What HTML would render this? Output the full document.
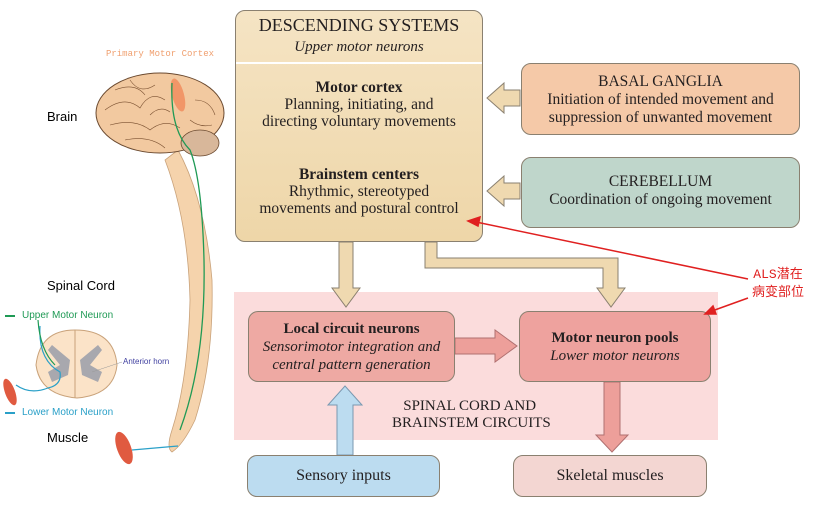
<!DOCTYPE html>
<html><head><meta charset="utf-8"><style>
body{margin:0;width:816px;height:515px;background:#fff;overflow:hidden;position:relative;font-family:"Liberation Serif",serif;}
.b{position:absolute;box-sizing:border-box;border:1px solid #8a8070;border-radius:10px;text-align:center;color:#231f20;}
.t{position:absolute;text-align:center;}
</style></head><body>
<svg width="816" height="515" style="position:absolute;left:0;top:0">
<rect x="234" y="292" width="484" height="148" fill="#fbdcdc"/>
<g fill="#efd9b0" stroke="#8a8070" stroke-width="1">
<path d="M339 242 V288 H332 L346 307 L360 288 H353 V242 Z"/>
<path d="M425 242 V268 H603 V288 H597 L611 307 L625 288 H618 V258 H437 V242 Z"/>
<path d="M520 90 H504 V83 L487 98 L504 113 V106 H520 Z"/>
<path d="M520 183 H504 V176 L487 191 L504 206 V199 H520 Z"/>
</g>
<path d="M455 338 H495 V330 L517 346 L495 362 V354 H455 Z" fill="#ed9f9a" stroke="#b07070"/>
<path d="M337 455 V405 H328 L345 386 L362 405 H353 V455 Z" fill="#bcdcf0" stroke="#7a98b0"/>
<path d="M604 382 V435 H596 L612 452 L628 435 H620 V382 Z" fill="#ed9f9a" stroke="#b07070"/>
<path d="M178 150 Q205 200 212 280 Q214 360 195 420 Q183 445 172 452 Q166 448 172 430 Q188 380 190 300 Q188 220 165 160 Z" fill="#f5d3ac" stroke="#c9a27a" stroke-width="0.8"/>
<ellipse cx="160" cy="113" rx="64" ry="40" fill="#f2c9a0" stroke="#6b4a30" stroke-width="1"/>
<ellipse cx="200" cy="143" rx="19" ry="13" fill="#d8b79a" stroke="#6b4a30" stroke-width="0.8"/>
<ellipse cx="178" cy="95" rx="6" ry="17" fill="#f08a5a" opacity="0.8" transform="rotate(-15 178 95)"/>
<g stroke="#7a5030" stroke-width="0.6" fill="none">
<path d="M105 110 Q125 95 140 108 Q150 90 165 100"/><path d="M110 125 Q135 118 150 130 Q165 118 180 128"/>
<path d="M115 90 Q135 82 145 95"/><path d="M195 100 Q210 100 215 115"/><path d="M125 140 Q150 135 165 148"/>
<path d="M130 80 Q140 95 155 85"/><path d="M150 115 Q160 105 170 112"/><path d="M190 120 Q200 128 212 125"/>
</g>
<path d="M172 83 Q170 130 190 150 Q202 180 204 260 Q206 360 180 430" fill="none" stroke="#1f9a55" stroke-width="1.3"/>
<path d="M132 450 L178 446" fill="none" stroke="#2aa0c8" stroke-width="1.2"/>
<ellipse cx="124" cy="448" rx="7" ry="17" fill="#e05a40" transform="rotate(-20 124 448)"/>
<ellipse cx="10" cy="392" rx="5" ry="14" fill="#e05a40" transform="rotate(-20 10 392)"/>
<path d="M75 330 Q40 330 36 365 Q40 395 77 398 Q114 395 117 365 Q114 330 75 330 Z" fill="#fbe3c8" stroke="#c9a27a"/>
<path d="M52 345 L70 360 L68 375 L52 382 L48 372 L60 365 L48 350 Z M98 345 L80 360 L82 375 L98 382 L102 372 L90 365 L102 350 Z" fill="#a8a8ae"/>
<line x1="75" y1="330" x2="75" y2="398" stroke="#c9a27a"/>
<path d="M40 326 Q38 360 60 372 Q62 385 48 388 Q30 395 16 385" fill="none" stroke="#2aa0c8" stroke-width="1.2"/>
<path d="M38 320 Q40 350 55 365" fill="none" stroke="#1f9a55" stroke-width="1.2"/>
<line x1="5" y1="316" x2="15" y2="316" stroke="#1f9a55" stroke-width="2"/>
<line x1="5" y1="413" x2="15" y2="413" stroke="#2aa0c8" stroke-width="2"/>
<line x1="92" y1="372" x2="122" y2="362" stroke="#999" stroke-width="0.5"/>
</svg>
<div class="t" style="left:100px;top:49px;width:120px;font:9px 'Liberation Mono',monospace;color:#f0a070">Primary Motor Cortex</div>
<div class="t" style="left:47px;top:109px;font:13px 'Liberation Sans',sans-serif">Brain</div>
<div class="t" style="left:47px;top:278px;font:13px 'Liberation Sans',sans-serif">Spinal Cord</div>
<div class="t" style="left:22px;top:310px;font:10px 'Liberation Sans',sans-serif;color:#1f9a55">Upper Motor Neuron</div>
<div class="t" style="left:123px;top:357px;font:8px 'Liberation Sans',sans-serif;color:#4040a0">Anterior horn</div>
<div class="t" style="left:22px;top:407px;font:10px 'Liberation Sans',sans-serif;color:#2aa0c8">Lower Motor Neuron</div>
<div class="t" style="left:47px;top:430px;font:13px 'Liberation Sans',sans-serif">Muscle</div>

<div class="b" style="left:235px;top:10px;width:248px;height:232px;background:linear-gradient(#f5e4c4,#eed6a8);">
<div style="border-bottom:2px solid #fff;padding:4px 0 5px;font-size:18px;line-height:20px">DESCENDING SYSTEMS<br><i style="font-size:15px">Upper motor neurons</i></div>
<div style="margin-top:15px;font-size:15.5px;line-height:17px"><b>Motor cortex</b><br>Planning, initiating, and<br>directing voluntary movements</div>
<div style="margin-top:36px;font-size:15.5px;line-height:17px"><b>Brainstem centers</b><br>Rhythmic, stereotyped<br>movements and postural control</div>
</div>
<div class="b" style="left:521px;top:63px;width:279px;height:72px;background:#f5c9a8;font-size:15.5px;line-height:18px;padding-top:9px">BASAL GANGLIA<br>Initiation of intended movement and<br>suppression of unwanted movement</div>
<div class="b" style="left:521px;top:157px;width:279px;height:71px;background:#bfd6cb;font-size:15.5px;line-height:18px;padding-top:15px">CEREBELLUM<br>Coordination of ongoing movement</div>
<div class="b" style="left:248px;top:311px;width:207px;height:71px;background:#eea9a3;font-size:15px;line-height:18px;padding-top:8px"><b>Local circuit neurons</b><br><i>Sensorimotor integration and<br>central pattern generation</i></div>
<div class="b" style="left:519px;top:311px;width:192px;height:71px;background:#eea29e;font-size:15px;line-height:18px;padding-top:17px"><b>Motor neuron pools</b><br><i>Lower motor neurons</i></div>
<div class="t" style="left:392px;top:398px;width:200px;font-size:15px;line-height:17px;text-align:left;color:#231f20">&nbsp;&nbsp;&nbsp;SPINAL CORD AND<br>BRAINSTEM CIRCUITS</div>
<div class="b" style="left:247px;top:455px;width:193px;height:42px;background:#bcdcf0;font-size:16px;line-height:40px">Sensory inputs</div>
<div class="b" style="left:513px;top:455px;width:194px;height:42px;background:#f3d6d2;font-size:16px;line-height:40px">Skeletal muscles</div>
<div class="t" style="left:752px;top:266px;font:13px/18px 'Liberation Mono','Noto Sans CJK SC',monospace;color:#e02020">ALS潜在<br>病变部位</div>
<svg width="816" height="515" style="position:absolute;left:0;top:0;pointer-events:none">
<g stroke="#e02020" stroke-width="1.5" fill="#e02020">
<line x1="748" y1="279" x2="476" y2="222"/><path d="M468 221 L480 217 L478 226 Z"/>
<line x1="748" y1="298" x2="712" y2="311"/><path d="M705 314 L713 306 L716 314 Z"/>
</g>
</svg>
</body></html>
